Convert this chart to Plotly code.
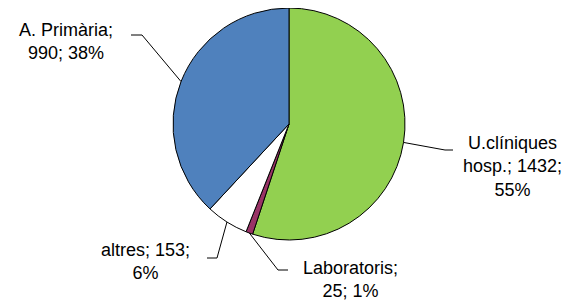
import math
import plotly.graph_objects as go

# ---- data ----
labels = ["U.clíniques hosp.", "Laboratoris", "altres", "A. Primària"]
values = [1432, 25, 153, 990]
colors = ["#92D050", "#993366", "#FFFFFF", "#4F81BD"]

# ---- layout (page pixels) ----
OFF = 8                      # default page body margin
W, H = 574 - OFF, 300 - OFF  # figure size
CX, CY, R = 289, 124, 116
label_text = [
    "U.clíniques<br>hosp.; {v};<br>{p}%",
    "Laboratoris;<br>{v}; {p}%",
    "altres; {v};<br>{p}%",
    "A. Primària;<br>{v}; {p}%",
]
label_pos = [(512, 166), (350, 279), (145, 261), (66, 41)]
elbows = [(445, 150), (278, 270), (217, 258), (142, 35)]
ends = [(453, 150), (288, 270), (207, 258), (131, 35)]


def px(x):
    return (x - OFF) / W


def py(y):
    return 1 - (y - OFF) / H


total = sum(values)
fig = go.Figure()
fig.add_trace(go.Pie(
    labels=labels, values=values, sort=False, direction="clockwise", rotation=0,
    marker=dict(colors=colors, line=dict(color="#000000", width=1)),
    textinfo="none", hoverinfo="label+value+percent", showlegend=False,
    domain=dict(x=[px(CX - R), px(CX + R)], y=[py(CY + R), py(CY - R)]),
))

annotations = []
shapes = []
cum = 0
for i, (lab, v) in enumerate(zip(labels, values)):
    frac_mid = (cum + v / 2) / total
    cum += v
    ang = 2 * math.pi * frac_mid
    sx = CX + R * math.sin(ang)
    sy = CY - R * math.cos(ang)
    pct = round(100 * v / total)
    text = label_text[i].format(v=v, p=pct)
    lx, ly = label_pos[i]
    annotations.append(dict(
        x=px(lx), y=py(ly), xref="paper", yref="paper", text=text,
        showarrow=False, xanchor="center", yanchor="middle", align="center",
        font=dict(family="Liberation Sans, Arial, sans-serif", size=18, color="#000000"),
    ))
    ex, ey = elbows[i]
    tx, ty = ends[i]
    shapes.append(dict(
        type="path", xref="paper", yref="paper",
        path=f"M {px(sx)} {py(sy)} L {px(ex)} {py(ey)} L {px(tx)} {py(ty)}",
        line=dict(color="#000000", width=1),
    ))

fig.update_layout(
    width=W, height=H, margin=dict(l=0, r=0, t=0, b=0),
    paper_bgcolor="#FFFFFF", plot_bgcolor="#FFFFFF",
    annotations=annotations, shapes=shapes,
)
fig.write_html("out.html")
